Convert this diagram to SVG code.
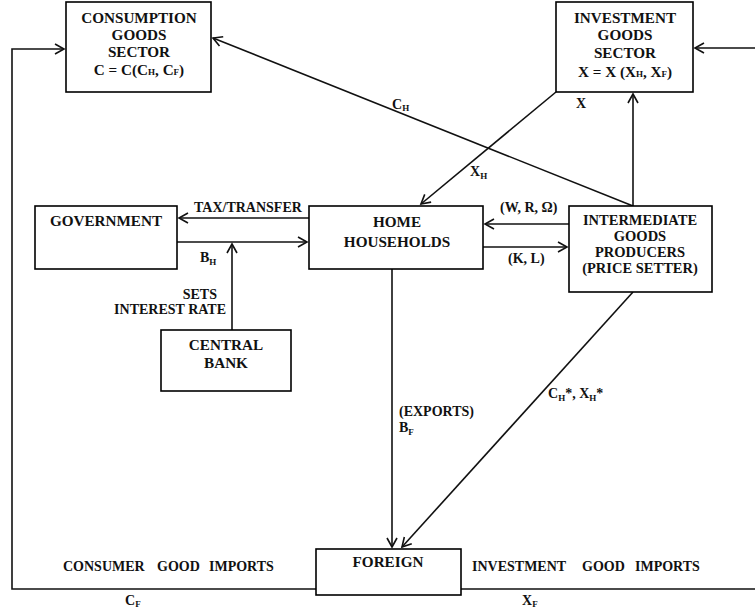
<svg xmlns="http://www.w3.org/2000/svg" width="755" height="614" viewBox="0 0 755 614" font-family="Liberation Serif, Times New Roman, serif">
<style>
.box{fill:#fff;stroke:#000;stroke-width:1.6}
.ln{fill:none;stroke:#111;stroke-width:1.6}
text{font-weight:bold;font-size:14px;fill:#111}
.t{font-size:15.2px}
.c{text-anchor:middle}
.sub{font-size:9px}
</style>
<defs>
<marker id="ah" markerWidth="12" markerHeight="12" refX="10" refY="6" orient="auto" markerUnits="userSpaceOnUse">
<path d="M1,1 L10,6 L1,11" fill="none" stroke="#111" stroke-width="1.6"/>
</marker>
</defs>
<rect width="755" height="614" fill="#fff"/>
<g id="connectors">
<path class="ln" d="M316,589 H12 V49 H64" marker-end="url(#ah)"/>
<path class="ln" d="M461,589 H756 V48 H695" marker-end="url(#ah)"/>
<path class="ln" d="M633,206 L213,38" marker-end="url(#ah)"/>
<path class="ln" d="M633,206 V94" marker-end="url(#ah)"/>
<path class="ln" d="M556,92 L421,204" marker-end="url(#ah)"/>
<path class="ln" d="M309,218 H179" marker-end="url(#ah)"/>
<path class="ln" d="M177,242 H307" marker-end="url(#ah)"/>
<path class="ln" d="M232,330 V244" marker-end="url(#ah)"/>
<path class="ln" d="M569,224 H485" marker-end="url(#ah)"/>
<path class="ln" d="M483,247 H567" marker-end="url(#ah)"/>
<path class="ln" d="M392,269 V547" marker-end="url(#ah)"/>
<path class="ln" d="M633,292 L402,547" marker-end="url(#ah)"/>
</g>
<g id="consumption">
<rect class="box" x="66" y="2" width="145" height="90"/>
<text class="c t" x="139" y="23">CONSUMPTION</text>
<text class="c t" x="139" y="40">GOODS</text>
<text class="c t" x="139" y="57">SECTOR</text>
<text class="c t" x="139" y="75">C = C(C<tspan class="sub">H</tspan>, C<tspan class="sub">F</tspan>)</text>
</g>
<g id="investment">
<rect class="box" x="556" y="2" width="137" height="90"/>
<text class="c t" x="625" y="23">INVESTMENT</text>
<text class="c t" x="625" y="40">GOODS</text>
<text class="c t" x="625" y="58">SECTOR</text>
<text class="c t" x="625" y="77">X = X (X<tspan class="sub">H</tspan>, X<tspan class="sub">F</tspan>)</text>
</g>
<g id="government">
<rect class="box" x="35" y="206" width="142" height="63"/>
<text class="c t" x="106" y="226">GOVERNMENT</text>
</g>
<g id="households">
<rect class="box" x="309" y="206" width="174" height="63"/>
<text class="c t" x="397" y="227">HOME</text>
<text class="c t" x="397" y="247">HOUSEHOLDS</text>
</g>
<g id="intermediate">
<rect class="box" x="569" y="206" width="143" height="86"/>
<text class="c" x="640" y="225" style="font-size:14.5px">INTERMEDIATE</text>
<text class="c" x="640" y="241" style="font-size:14.5px">GOODS</text>
<text class="c" x="640" y="257" style="font-size:14.5px">PRODUCERS</text>
<text class="c" x="640" y="273" style="font-size:14.5px">(PRICE SETTER)</text>
</g>
<g id="centralbank">
<rect class="box" x="161" y="330" width="130" height="61"/>
<text class="c t" x="226" y="350">CENTRAL</text>
<text class="c t" x="226" y="368">BANK</text>
</g>
<g id="foreign">
<rect class="box" x="316" y="549" width="145" height="46"/>
<text class="c t" x="388" y="567">FOREIGN</text>
</g>
<g id="labels">
<text x="392" y="109">C<tspan class="sub" dy="2">H</tspan></text>
<text x="576" y="108">X</text>
<text x="470" y="176">X<tspan class="sub" dy="3">H</tspan></text>
<text x="194" y="212">TAX/TRANSFER</text>
<text x="200" y="262">B<tspan class="sub" dy="3">H</tspan></text>
<text x="217" y="299" text-anchor="end">SETS</text>
<text x="226" y="314" text-anchor="end">INTEREST RATE</text>
<text x="500" y="212">(W, R, Ω)</text>
<text x="508" y="263">(K, L)</text>
<text x="399" y="416">(EXPORTS)</text>
<text x="399" y="432">B<tspan class="sub" dy="3">F</tspan></text>
<text x="548" y="398">C<tspan class="sub" dy="3">H</tspan><tspan dy="-3">*, X</tspan><tspan class="sub" dy="3">H</tspan><tspan dy="-3">*</tspan></text>
<text x="63" y="571">CONSUMER</text>
<text x="157" y="571">GOOD</text>
<text x="209" y="571">IMPORTS</text>
<text x="472" y="571">INVESTMENT</text>
<text x="582" y="571">GOOD</text>
<text x="635" y="571">IMPORTS</text>
<text x="125" y="605">C<tspan class="sub" dy="2">F</tspan></text>
<text x="522" y="605">X<tspan class="sub" dy="2">F</tspan></text>
</g>
</svg>
